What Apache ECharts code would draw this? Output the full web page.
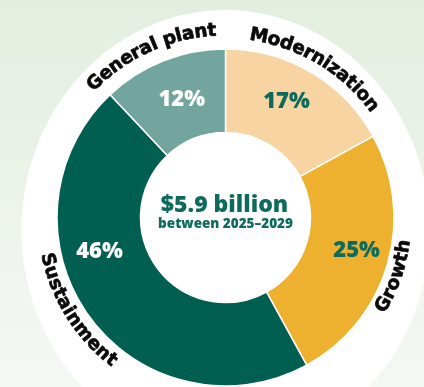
<!DOCTYPE html>
<html><head><meta charset="utf-8">
<script src="https://cdn.jsdelivr.net/npm/echarts@6/dist/echarts.min.js"></script>
<style>
html,body{margin:0;padding:0;}
#c{width:424px;height:387px;background:linear-gradient(180deg,#E3EEE0 0%,#ECF3EA 50%,#F4F8F4 100%);}
</style>
</head><body><div id="c"></div>
<script>
// ---- data ----
const categories = ['Modernization', 'Growth', 'Sustainment', 'General plant'];
const shares = [17, 25, 46, 12];
const percentLabels = ['17%', '25%', '46%', '12%'];
const totalTitle = '$5.9 billion';
const totalSubtitle = 'between 2025\u20132029';
const sliceColors = ['#F8D4A2', '#EDB02F', '#005F50', '#72A59E'];
const pctColors = ['#0E6B5C', '#0E6B5C', '#ffffff', '#ffffff'];

// ---- layout ----
const CX = 225.5, CY = 217.5, R0 = 85, R1 = 168.5;
const curveStyle = ['top', 'bottom', 'bottom', 'top'];
const curveAngleShift = [0.3, 3, 4, -3];   // degrees
const curveRadius = [184, 181, 183, 187];
const pctShift = [[-5, -4.5], [6.5, -3], [-21, -42], [4, 3]];
const curveFont = '700 18.5px "DejaVu Sans"';

const chart = echarts.init(document.getElementById('c'));
const ctx = document.createElement('canvas').getContext('2d');
ctx.font = curveFont;

const total = shares.reduce((a, b) => a + b, 0);
let cum = 0;
const graphics = [];
// white outer halo
graphics.push({
  type: 'circle', x: CX, y: 230, scaleY: 220 / 204, z: -10, silent: true,
  shape: { cx: 0, cy: 0, r: 204 }, style: { fill: '#ffffff' }
});
shares.forEach((v, i) => {
  const mid = (cum + v / 2) / total * 360 + curveAngleShift[i];
  cum += v;
  const text = categories[i];
  const r = curveRadius[i];
  const widths = [...text].map(ch => ctx.measureText(ch).width);
  const W = widths.reduce((a, b) => a + b, 0);
  let s = 0;
  const th0 = mid * Math.PI / 180;
  [...text].forEach((ch, k) => {
    const c = s + widths[k] / 2;
    s += widths[k];
    const d = (c - W / 2) / r;
    const th = curveStyle[i] === 'top' ? th0 + d : th0 - d;
    const rot = curveStyle[i] === 'top' ? -th : Math.PI - th;
    graphics.push({
      type: 'text', x: CX + r * Math.sin(th), y: CY - r * Math.cos(th), rotation: rot, z: 10, silent: true,
      style: { text: ch, font: curveFont, fill: '#0a0a0a', stroke: '#0a0a0a', lineWidth: 0.7,
               align: 'center', verticalAlign: 'middle' }
    });
  });
});
graphics.push({
  type: 'text', x: CX - 1, y: 205, z: 10, silent: true,
  style: { text: totalTitle, font: '800 23px "Open Sans"', fill: '#0E6B5C', align: 'center', verticalAlign: 'middle' }
});
graphics.push({
  type: 'text', x: CX, y: 224, z: 10, silent: true,
  style: { text: totalSubtitle, font: '800 13.5px "Open Sans"', fill: '#0E6B5C', align: 'center', verticalAlign: 'middle' }
});

chart.setOption({
  animation: false,
  backgroundColor: 'transparent',
  graphic: { elements: graphics },
  series: [{
    type: 'pie',
    center: [CX, CY],
    radius: [R0, R1],
    startAngle: 90,
    clockwise: true,
    silent: true,
    itemStyle: { borderColor: '#ffffff', borderWidth: 1.5 },
    label: { show: true, position: 'inside', fontFamily: 'Open Sans', fontWeight: 800, fontSize: 22 },
    labelLine: { show: false },
    labelLayout: function (p) { return { dx: pctShift[p.dataIndex][0], dy: pctShift[p.dataIndex][1] }; },
    data: categories.map((c, i) => ({
      name: c, value: shares[i],
      itemStyle: { color: sliceColors[i] },
      label: { formatter: percentLabels[i], color: pctColors[i] }
    }))
  }]
});
</script>
</body></html>
